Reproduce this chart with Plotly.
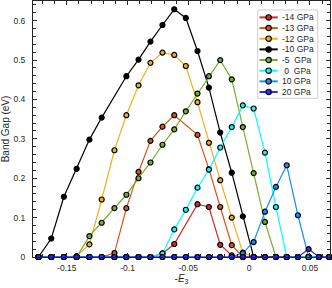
import plotly.graph_objects as go

# ---------------- data ----------------
X = [-0.1733, -0.1628, -0.1524, -0.1419, -0.1314, -0.1213, -0.1108, -0.1010,
     -0.0910, -0.0812, -0.0713, -0.0616, -0.0521, -0.0425, -0.0331, -0.0238,
     -0.0143, -0.0052, 0.0037, 0.0130, 0.0220, 0.0309, 0.0401, 0.0489,
     0.0574, 0.0658]

GAP_M14 = [0, 0, 0, 0, 0, 0, 0, 0, 0, 0, 0.009, 0.033, None, 0.134, 0.127, 0.031,
           0.004, 0, 0, 0, 0, 0, 0, 0, 0, 0]
GAP_M13 = [0, 0, 0, 0, 0, 0, 0.010, 0.124, 0.216, 0.295, 0.331, 0.360, None, 0.310,
           0.223, 0.127, 0.030, 0, 0, 0, 0, 0, 0, 0, 0, 0]
GAP_M12 = [0, 0, 0, 0.002, 0.032, 0.146, 0.271, 0.360, 0.436, 0.493, 0.519, 0.513,
           0.485, 0.393, 0.290, 0.195, 0.100, 0.011, 0, 0, 0, 0, 0, 0, 0, 0]
GAP_M10 = [0, 0.047, 0.153, 0.224, 0.298, 0.354, None, 0.459, 0.501, 0.547, 0.589,
           0.629, 0.607, 0.523, 0.430, 0.316, 0.214, 0.103, 0, 0, 0, 0, 0, 0, 0, 0]
GAP_M5 = [0, 0, 0, 0, 0.053, 0.087, 0.124, 0.158, 0.200, 0.240, 0.285, 0.324,
          0.370, 0.415, 0.459, 0.500, 0.451, 0.330, 0.213, 0.089, 0, 0, 0, 0, 0, 0]
GAP_0 = [0, 0, 0, 0, 0, 0, 0, 0, 0, 0, 0.009, 0.070, 0.120, 0.176, 0.222, 0.278,
         0.330, 0.385, 0.377, 0.265, 0.127, 0, 0, 0, 0, 0]
GAP_10 = [0, 0, 0, 0, 0, 0, 0, 0, 0, 0, 0, 0, 0, 0, 0, 0, 0, 0.010, 0.038, 0.115,
          0.178, 0.233, 0.106, 0, 0, 0]
GAP_20 = [0, 0, 0, 0, 0, 0, 0, 0, 0, 0, 0, 0, 0, 0, 0, 0, 0, 0, 0, 0, 0, 0, 0,
          0.020, 0, 0]

SERIES = [GAP_M14, GAP_M13, GAP_M12, GAP_M10, GAP_M5, GAP_0, GAP_10, GAP_20]
LABELS = ["-14 GPa", "-13 GPa", "-12 GPa", "-10 GPa", "-5\u00a0\u00a0GPa",
          "\u00a00\u00a0\u00a0GPa", "10 GPa", "20 GPa"]
COLORS = ["#D42A2A", "#D95319", "#EDB120", "#000000", "#77AC30", "#00FFFF",
          "#1A8CFF", "#2B2BFF"]

X_TICKS = [-0.15, -0.1, -0.05, 0, 0.05]
X_TICKTEXT = ["-0.15", "-0.1", "-0.05", "0", "0.05"]
Y_TICKS = [0, 0.1, 0.2, 0.3, 0.4, 0.5, 0.6]
Y_TICKTEXT = ["0", "0.1", "0.2", "0.3", "0.4", "0.5", "0.6"]

# ---------------- figure ----------------
W, H = 332, 288
ML, MR, MT, MB = 33, 2, 1, 31
FONT = "Liberation Sans, Arial, Helvetica, sans-serif"
AX = "#262626"

fig = go.Figure()
for ys, col, lab in zip(SERIES, COLORS, LABELS):
    fig.add_trace(go.Scatter(
        x=X, y=ys, name=lab, mode="lines+markers", connectgaps=True,
        line=dict(color=col, width=1.2),
        marker=dict(symbol="circle", size=5, color=col,
                    line=dict(color="black", width=1.2)),
        cliponaxis=False, showlegend=False, hoverinfo="skip"))

pw = W - ML - MR
ph = H - MT - MB


def px2paper_x(px):
    return (px - ML) / pw


def px2paper_y(py):
    return (H - MB - py) / ph


# custom compact legend
shapes = []
annotations = []
box_l, box_r, box_t, box_b = 257.7, 317.7, 10.0, 98.3
shapes.append(dict(type="rect", xref="paper", yref="paper",
                   x0=px2paper_x(box_l), x1=px2paper_x(box_r),
                   y0=px2paper_y(box_b), y1=px2paper_y(box_t),
                   fillcolor="white", line=dict(color="#CFCFCF", width=1),
                   layer="above"))
row0, drow = 17.4, 10.66
for i, (col, lab) in enumerate(zip(COLORS, LABELS)):
    yy = px2paper_y(row0 + i * drow)
    shapes.append(dict(type="line", xref="paper", yref="paper",
                       x0=px2paper_x(259.5), x1=px2paper_x(277.7), y0=yy, y1=yy,
                       line=dict(color=col, width=2), layer="above"))
    shapes.append(dict(type="circle", xref="paper", yref="paper",
                       xsizemode="pixel", ysizemode="pixel",
                       xanchor=px2paper_x(268.6), yanchor=yy,
                       x0=-2.7, x1=2.7, y0=-2.7, y1=2.7,
                       fillcolor=col, line=dict(color="black", width=1.1),
                       layer="above"))
    annotations.append(dict(xref="paper", yref="paper", x=px2paper_x(279.5), y=yy,
                            xanchor="left", yanchor="middle", showarrow=False,
                            text=lab, font=dict(family=FONT, size=8.5, color=AX)))

fig.update_layout(
    width=W, height=H,
    margin=dict(l=ML, r=MR, t=MT, b=MB, pad=0),
    paper_bgcolor="white", plot_bgcolor="white",
    font=dict(family=FONT, size=8.5, color=AX),
    shapes=shapes, annotations=annotations,
    showlegend=False, hovermode=False,
)
fig.update_xaxes(
    range=[-0.1778, 0.0665], tickmode="array", tickvals=X_TICKS, ticktext=X_TICKTEXT,
    ticks="inside", ticklen=4, tickwidth=1, tickcolor=AX,
    showline=True, linecolor=AX, linewidth=1, mirror="ticks",
    showgrid=False, zeroline=False,
    minor=dict(tickmode="linear", tick0=0, dtick=0.01, ticks="inside",
               ticklen=3, tickcolor=AX, showgrid=False),
    tickfont=dict(family=FONT, size=8.5, color=AX),
    ticklabelstandoff=3,
    title=dict(text="-<i>E</i><sub>3</sub>", font=dict(family=FONT, size=10, color=AX),
               standoff=2),
    automargin=False,
)
fig.update_yaxes(
    range=[0, 0.65], tickmode="array", tickvals=Y_TICKS, ticktext=Y_TICKTEXT,
    ticks="inside", ticklen=4, tickwidth=1, tickcolor=AX,
    showline=True, linecolor=AX, linewidth=1, mirror="ticks",
    showgrid=False, zeroline=False,
    minor=dict(tickmode="linear", tick0=0, dtick=0.02, ticks="inside",
               ticklen=3, tickcolor=AX, showgrid=False),
    tickfont=dict(family=FONT, size=8.5, color=AX),
    ticklabelstandoff=5,
    title=dict(text="Band Gap (eV)", font=dict(family=FONT, size=10, color=AX),
               standoff=3),
    automargin=False,
)

fig.write_html("out.html",
               config={"displayModeBar": False, "staticPlot": True},
               post_script="document.body.style.margin='0';"
                           "document.body.style.overflow='hidden';")
